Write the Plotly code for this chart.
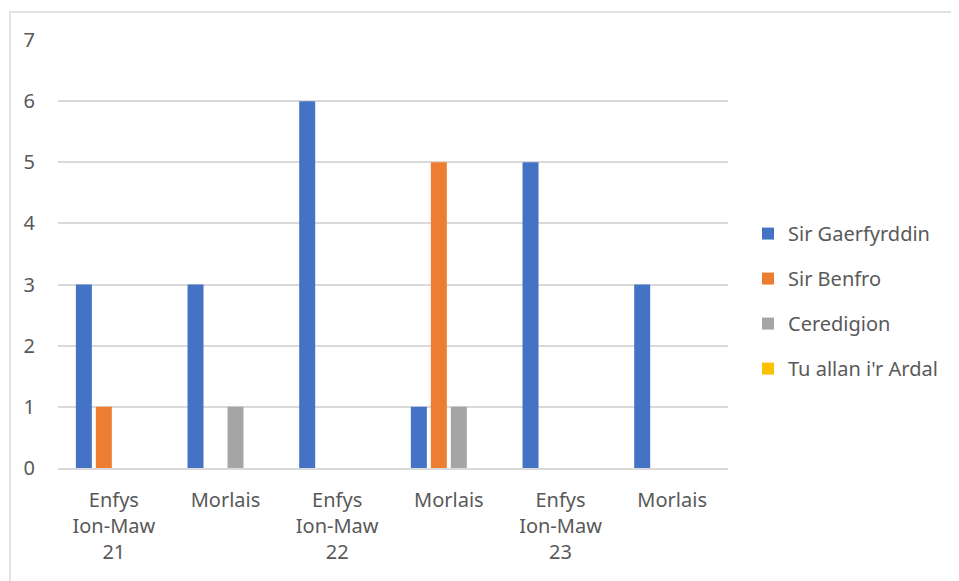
import plotly.graph_objects as go

categories = ["Enfys<br>Ion-Maw<br>21", "Morlais", "Enfys<br>Ion-Maw<br>22",
              "Morlais", "Enfys<br>Ion-Maw<br>23", "Morlais"]
series_names = ["Sir Gaerfyrddin", "Sir Benfro", "Ceredigion", "Tu allan i'r Ardal"]
sir_gaerfyrddin = [3, 3, 6, 1, 5, 3]
sir_benfro = [1, 0, 0, 5, 0, 0]
ceredigion = [0, 1, 0, 1, 0, 0]
tu_allan = [0, 0, 0, 0, 0, 0]

colors = ["#4472C4", "#ED7D31", "#A5A5A5", "#FFC000"]
FONT = "Noto Sans"
TXT = "#595959"

# page body adds 8px, so the figure is laid out 8px smaller / shifted
L, T, PW, PH = 50, 32, 670, 428
W, H = 951, 573

# categories repeat ("Morlais"), so place them by index and relabel the ticks
xpos = list(range(len(categories)))

fig = go.Figure()
for name, vals, col in zip(series_names,
                           [sir_gaerfyrddin, sir_benfro, ceredigion, tu_allan],
                           colors):
    fig.add_trace(go.Bar(x=xpos, y=vals, name=name, marker_color=col,
                         marker_line_width=0, legendgroup=name))

fig.update_layout(
    width=W, height=H,
    paper_bgcolor="white", plot_bgcolor="white",
    margin=dict(l=L, r=W - L - PW, t=T, b=H - T - PH),
    barmode="group", bargap=0.284, bargroupgap=0.2,
    font=dict(family=FONT, size=20, color=TXT),
    showlegend=True,
    legend=dict(x=(740 - L) / PW, y=0.39, xanchor="left", yanchor="middle",
                font=dict(family=FONT, size=20, color=TXT),
                tracegroupgap=16, itemwidth=30),
    xaxis=dict(tickmode="array", tickvals=xpos, ticktext=categories,
               range=[-0.5, len(categories) - 0.5], showgrid=False,
               showline=True, linecolor="#d9d9d9", linewidth=1.5,
               ticks="", ticklabelstandoff=13, tickfont=dict(size=20)),
    yaxis=dict(range=[0, 7], dtick=1, showgrid=True, gridcolor="#d9d9d9",
               gridwidth=1.5, zeroline=False, showline=False, ticks="",
               ticklabelstandoff=22, tickfont=dict(size=20)),
    shapes=[dict(type="rect", xref="paper", yref="paper",
                 x0=(2 - L) / PW, x1=(948 - L) / PW,
                 y0=-0.3, y1=(T + PH - 4) / PH,
                 line=dict(color="#d9d9d9", width=1.5), layer="below")],
)

fig.write_html("out.html")
